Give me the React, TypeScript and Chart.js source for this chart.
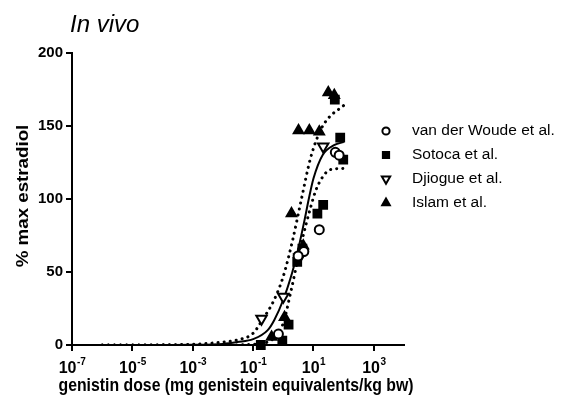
import React, { useEffect, useRef } from "react";
import { Chart, registerables } from "chart.js";
import { drawPoint } from "chart.js/helpers";

Chart.register(...registerables);

// ---- Data ----
const seriesNames = ["van der Woude et al.", "Sotoca et al.", "Djiogue et al.", "Islam et al."];

const woudeDose = [53, 71, 15.6, 4.8, 3.1, 0.69];
const woudeResp = [132, 130, 79, 64, 61, 7.5];

const sotocaDose = [51, 77, 97, 21, 13.5, 4.3, 2.9, 1.5, 0.93, 0.18];
const sotocaResp = [168, 142, 127, 96, 90, 66, 57, 14, 3, 0];

const djiogueDose = [21, 3.4, 1.0, 0.19];
const djiogueResp = [136, 60, 33, 18];

const islamDose = [31, 49, 3.2, 7.3, 15.6, 1.87, 4.6, 1.1, 0.41];
const islamResp = [173, 171, 147, 147, 146, 90, 68, 19, 5.5];

// fitted curve and its confidence band
const fitDose = [1e-6, 1e-5, 1e-4, 1e-3, 1e-2, 0.03, 0.1, 0.3, 0.5, 1, 2, 3, 5, 7, 10, 20, 50, 100];
const fitResp = [0, 0, 0, 0.1, 0.7, 2, 4, 10, 17, 31, 50, 64, 85, 100, 114, 130, 137, 139];

const upperDose = [1e-6, 1e-5, 1e-4, 1e-3, 1e-2, 0.03, 0.1, 0.2, 0.5, 1, 2, 4, 8, 17, 30, 100];
const upperResp = [0, 0, 0.1, 0.5, 2, 3.5, 8, 17, 31, 47, 71, 100, 128, 147, 155, 164];

const lowerDose = [1e-6, 1e-5, 1e-4, 1e-3, 1e-2, 0.1, 0.3, 0.5, 1, 1.8, 4, 8, 12, 20, 35, 100];
const lowerResp = [0, 0, 0, 0, 0, 0.5, 2, 5, 15, 37, 70, 94, 106, 115, 120, 121];

const xTickExps = [-7, -5, -3, -1, 1, 3];
const yTicks = [0, 50, 100, 150, 200];

const yTitle = "% max estradiol";
const xTitle = "genistin dose (mg genistein equivalents/kg bw)";
const chartTitle = "In vivo";

const FONT = "'Liberation Sans', Arial, Helvetica, sans-serif";

function pts(xs: number[], ys: number[]) {
  return xs.map((x, i) => ({ x, y: ys[i] }));
}

export default function App() {
  const ref = useRef<HTMLCanvasElement | null>(null);

  useEffect(() => {
    const canvas = ref.current;
    if (!canvas) return;
    document.body.style.margin = "0";

    const markerStyles = [
      { pointStyle: "circle", rotation: 0, fill: "#ffffff", radius: 4.5 },
      { pointStyle: "rect", rotation: 0, fill: "#000000", radius: 5.5 },
      { pointStyle: "triangle", rotation: 180, fill: "#ffffff", radius: 6 },
      { pointStyle: "triangle", rotation: 0, fill: "#000000", radius: 5.5 },
    ];

    const scatterSets = [
      pts(woudeDose, woudeResp),
      pts(sotocaDose, sotocaResp),
      pts(djiogueDose, djiogueResp),
      pts(islamDose, islamResp),
    ].map((data, i) => ({
      type: "scatter" as const,
      label: seriesNames[i],
      data,
      pointStyle: markerStyles[i].pointStyle,
      rotation: markerStyles[i].rotation,
      pointRadius: markerStyles[i].radius,
      pointBackgroundColor: markerStyles[i].fill,
      pointBorderColor: "#000000",
      pointBorderWidth: 2,
      showLine: false,
      clip: false as any,
      order: 0,
    }));

    const lineBase = {
      type: "line" as const,
      pointRadius: 0,
      borderColor: "#000000",
      fill: false,
      cubicInterpolationMode: "monotone" as const,
      order: 1,
    };

    const decorPlugin = {
      id: "customDecor",
      afterDraw(chart: any) {
        const ctx = chart.ctx as CanvasRenderingContext2D;
        const area = chart.chartArea;
        ctx.save();
        ctx.fillStyle = "#000";

        // chart title
        ctx.font = `italic 24px ${FONT}`;
        ctx.textAlign = "left";
        ctx.textBaseline = "alphabetic";
        ctx.fillText(chartTitle, 70, 32);

        // y axis title
        ctx.save();
        ctx.translate(24, (area.top + area.bottom) / 2 - 3);
        ctx.rotate(-Math.PI / 2);
        ctx.scale(1.17, 1);
        ctx.font = `bold 16px ${FONT}`;
        ctx.textAlign = "center";
        ctx.textBaseline = "middle";
        ctx.fillText(yTitle, 0, 0);
        ctx.restore();

        // x axis title
        ctx.save();
        ctx.font = `bold 17px ${FONT}`;
        const wTitle = ctx.measureText(xTitle).width;
        ctx.translate((area.left + area.right) / 2 - 2, 386);
        ctx.scale(355 / wTitle, 1.05);
        ctx.textAlign = "center";
        ctx.textBaseline = "middle";
        ctx.fillText(xTitle, 0, 0);
        ctx.restore();

        // x tick labels with superscripts
        const xs = chart.scales.x;
        const baseY = area.bottom + 28;
        ctx.textAlign = "left";
        ctx.textBaseline = "alphabetic";
        xTickExps.forEach((e) => {
          const px = xs.getPixelForValue(Math.pow(10, e));
          ctx.font = `bold 16px ${FONT}`;
          const wBase = ctx.measureText("10").width;
          ctx.font = `bold 10px ${FONT}`;
          const expStr = e < 0 ? "-" + Math.abs(e) : String(e);
          const wExp = ctx.measureText(expStr).width;
          const left = px - (wBase + wExp) / 2;
          ctx.font = `bold 16px ${FONT}`;
          ctx.fillText("10", left, baseY);
          ctx.font = `bold 10px ${FONT}`;
          ctx.fillText(expStr, left + wBase + 0.5, baseY - 8);
        });

        // legend
        const rowY = [131, 155, 179, 203];
        chart.data.datasets.slice(0, 4).forEach((ds: any, i: number) => {
          const m = markerStyles[i];
          ctx.fillStyle = m.fill;
          ctx.strokeStyle = "#000";
          ctx.lineWidth = 2;
          drawPoint(
            ctx,
            {
              pointStyle: m.pointStyle as any,
              rotation: m.rotation,
              radius: m.radius * 0.8,
              borderWidth: 2,
            } as any,
            386,
            rowY[i]
          );
          ctx.fillStyle = "#000";
          ctx.font = `15.5px ${FONT}`;
          ctx.textBaseline = "middle";
          ctx.textAlign = "left";
          ctx.fillText(ds.label, 412, rowY[i]);
        });
        ctx.restore();
      },
    };

    const chart = new Chart(canvas, {
      data: {
        datasets: [
          ...scatterSets,
          { ...lineBase, label: "fit", data: pts(fitDose, fitResp), borderWidth: 2 },
          {
            ...lineBase,
            label: "upper",
            data: pts(upperDose, upperResp),
            borderWidth: 3,
            borderDash: [0.1, 6],
            borderCapStyle: "round",
          },
          {
            ...lineBase,
            label: "lower",
            data: pts(lowerDose, lowerResp),
            borderWidth: 3,
            borderDash: [0.1, 6],
            borderCapStyle: "round",
          },
        ],
      } as any,
      options: {
        animation: false,
        responsive: false,
        maintainAspectRatio: false,
        layout: { padding: { left: 0, right: 168, top: 53, bottom: 0 } },
        plugins: {
          legend: { display: false },
          tooltip: { enabled: false },
          title: { display: false },
        },
        scales: {
          x: {
            type: "logarithmic",
            min: 1e-7,
            max: 1e4,
            afterBuildTicks: (scale: any) => {
              scale.ticks = xTickExps.map((e) => ({ value: Math.pow(10, e) }));
            },
            afterFit: (scale: any) => {
              scale.height = 58;
            },
            ticks: {
              callback: () => "",
              font: { family: FONT, size: 15, weight: "bold" },
            },
            grid: {
              display: true,
              drawOnChartArea: false,
              drawTicks: true,
              tickLength: 6,
              color: "#000",
              lineWidth: 2,
            },
            border: { display: true, color: "#000", width: 2 },
            title: { display: false },
          },
          y: {
            type: "linear",
            min: 0,
            max: 200,
            afterBuildTicks: (scale: any) => {
              scale.ticks = yTicks.map((v) => ({ value: v }));
            },
            afterFit: (scale: any) => {
              scale.width = 72;
            },
            ticks: {
              color: "#000",
              padding: 3,
              font: { family: FONT, size: 15, weight: "bold" },
            },
            grid: {
              display: true,
              drawOnChartArea: false,
              drawTicks: true,
              tickLength: 6,
              color: "#000",
              lineWidth: 2,
            },
            border: { display: true, color: "#000", width: 2 },
            title: { display: false },
          },
        },
      } as any,
      plugins: [decorPlugin],
    });

    return () => chart.destroy();
  }, []);

  return (
    <div style={{ position: "absolute", left: 0, top: 0, width: 572, height: 403 }}>
      <canvas ref={ref} width={572} height={403} style={{ width: 572, height: 403 }} />
    </div>
  );
}
